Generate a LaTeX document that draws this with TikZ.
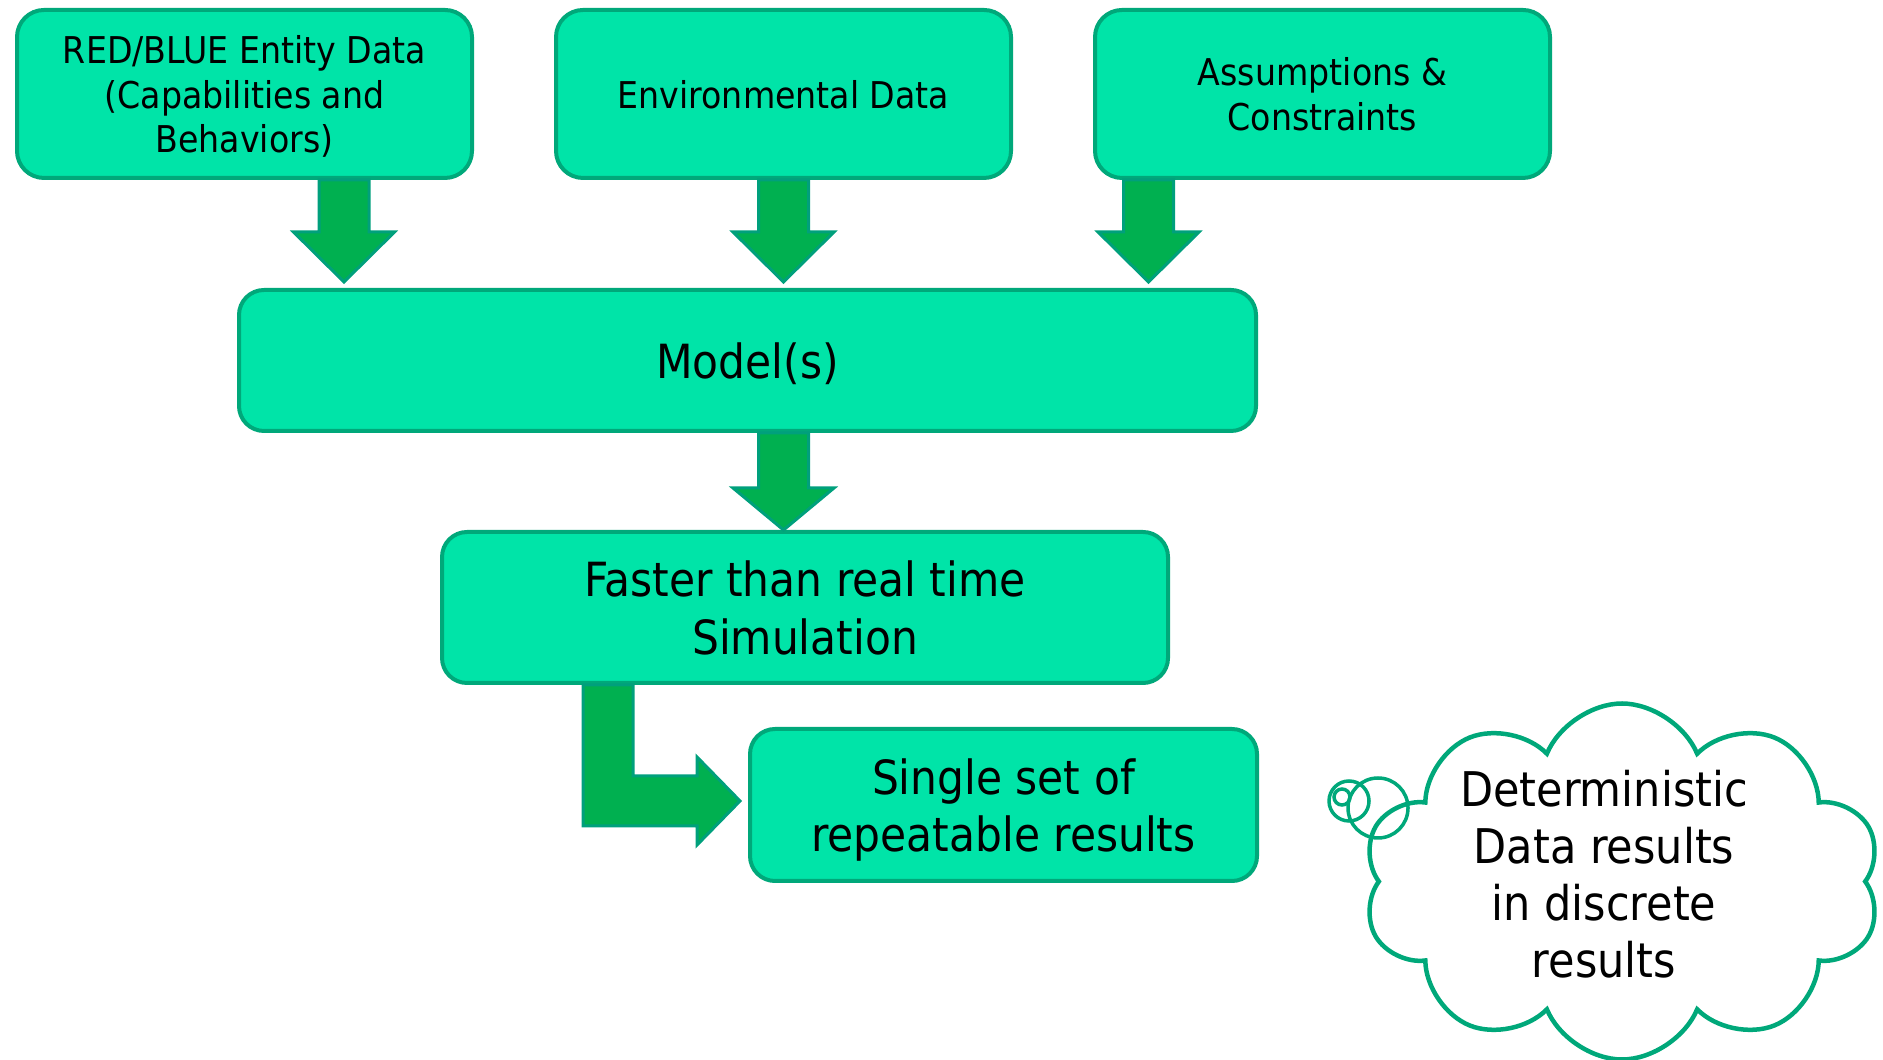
\documentclass[tikz,border=0pt]{standalone}
\usepackage{fontspec}
\setmainfont{DejaVu Sans}[FakeStretch=0.9]
\usepackage{tikz}
\usetikzlibrary{calc, shapes.symbols}
\definecolor{box_fill}{HTML}{00E4A8}
\definecolor{box_line}{HTML}{00A87A}
\definecolor{arrow_fill}{HTML}{00B050}
\definecolor{arrow_line}{HTML}{00A07C}
\tikzset{
  data box/.style={draw=box_line, fill=box_fill, line width=0.04cm, rounded corners=0.27cm, text depth=0pt,
    align=center, font=\fontsize{10.5}{12.8}\selectfont, minimum width=4.55cm, minimum height=1.68cm},
  big box/.style={draw=box_line, fill=box_fill, line width=0.04cm, rounded corners=0.25cm, text depth=0pt,
    align=center, font=\fontsize{13.4}{16.4}\selectfont},
  fat arrow/.style={fill=arrow_fill, draw=arrow_line, line width=0.03cm}
}
% block arrow pointing down: shaft top, tip, head length
\newcommand{\fatdown}[3]{%
  \draw[fat arrow] let \p1=#1, \p2=#2 in
    (\x2-0.25cm,\y1) -- (\x2+0.25cm,\y1) -- (\x2+0.25cm,\y2+#3) -- (\x2+0.505cm,\y2+#3)
    -- (\x2,\y2) -- (\x2-0.505cm,\y2+#3) -- (\x2-0.25cm,\y2+#3) -- cycle;}

\begin{document}
\begin{tikzpicture}
\useasboundingbox (0,0) rectangle (18.83,10.60);

% Draw the three input boxes
\node[data box] (entity) at (2.445,9.66) {RED/BLUE Entity Data\\(Capabilities and\\Behaviors)};
\node[data box] (env) at (7.835,9.66) {Environmental Data};
\node[data box] (assume) at (13.225,9.66) {Assumptions \&\\Constraints};

% Draw the model box and the simulation boxes
\node[big box, minimum width=10.17cm, minimum height=1.41cm] (model) at (7.475,6.995) {Model(s)};
\node[big box, minimum width=7.26cm, minimum height=1.51cm] (faster) at (8.05,4.525) {Faster than real time\\Simulation};
\node[big box, minimum width=5.07cm, minimum height=1.52cm] (single) at (10.035,2.55) {Single set of\\repeatable results};

% Draw the fat arrows into the model
\fatdown{(entity.south)}{([xshift=1.07cm,yshift=0.06cm]model.north west)}{0.5cm}
\fatdown{(env.south)}{([yshift=0.06cm]model.north -| env.south)}{0.5cm}
\fatdown{(assume.south)}{([xshift=-1.095cm,yshift=0.06cm]model.north east)}{0.5cm}

% Draw the fat arrow from the model to the simulation
\fatdown{(model.south)}{(faster.north -| env.south)}{0.42cm}

% Draw the bent fat arrow to the results
\draw[fat arrow] let \p1=([xshift=-1.97cm]faster.south), \p2=([xshift=-0.08cm,yshift=0.04cm]single.west) in
  (\x1-0.25cm,\y1) -- (\x1+0.25cm,\y1) -- (\x1+0.25cm,\y2+0.25cm) -- (\x2-0.43cm,\y2+0.25cm)
  -- (\x2-0.43cm,\y2+0.44cm) -- (\x2,\y2) -- (\x2-0.43cm,\y2-0.44cm) -- (\x2-0.43cm,\y2-0.25cm)
  -- (\x1-0.25cm,\y2-0.25cm) -- cycle;

% Draw the thought cloud
\node[cloud, draw=box_line, line width=0.045cm, cloud puffs=10, cloud puff arc=135, aspect=1.5,
  minimum width=5.18cm, minimum height=3.56cm] (bubble) at (16.22,1.785) {};
\node[align=center, font=\fontsize{13.6}{16.2}\selectfont] (det) at (16.04,1.855) {Deterministic\\Data results\\in discrete\\results};
\draw[box_line, line width=0.035cm] (13.42,2.63) circle (0.08);
\draw[box_line, line width=0.035cm] (13.49,2.59) circle (0.20);
\draw[box_line, line width=0.035cm] (13.78,2.52) circle (0.30);

\end{tikzpicture}
\end{document}
